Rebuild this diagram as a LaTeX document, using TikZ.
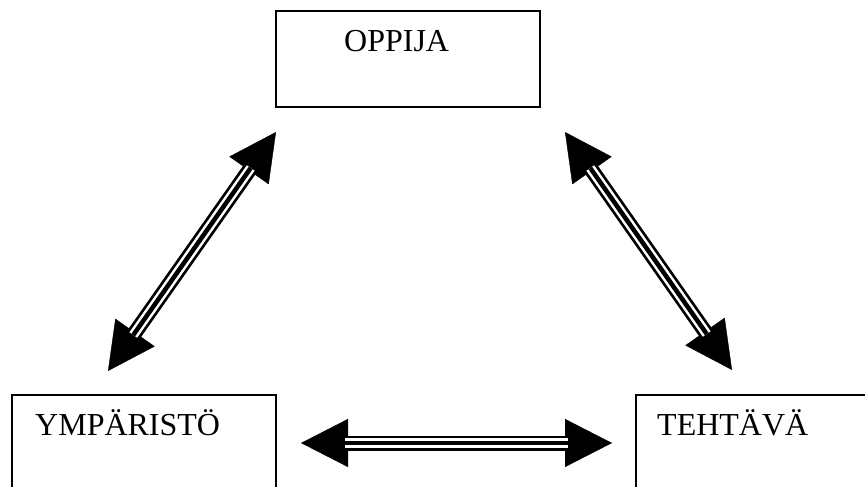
\documentclass[tikz,border=0pt]{standalone}
\usepackage{fontspec}
\setmainfont{Liberation Serif}
\usetikzlibrary{arrows.meta}
\newcommand\tripar[2]{%
  \draw[headpair] (#1) -- (#2);
  \draw[shaftA] (#1) -- (#2);
  \draw[shaftB] (#1) -- (#2);
  \draw[shaftC] (#1) -- (#2);}
\begin{document}
\begin{tikzpicture}[x=1pt,y=-1pt,
  box/.style={draw, line width=1.8pt, inner sep=0pt},
  lbl/.style={anchor=base west, inner sep=0pt, font=\fontsize{32}{36}\selectfont},
  headpair/.style={line width=0.4pt, {Triangle[length=47pt,width=48pt]}-{Triangle[length=47pt,width=48pt]}},
  shaftA/.style={line width=15pt, shorten <=44pt, shorten >=44pt},
  shaftB/.style={white, line width=9.5pt, shorten <=44pt, shorten >=44pt},
  shaftC/.style={line width=4.5pt, shorten <=44pt, shorten >=44pt}]
\useasboundingbox (0,0) rectangle (865,487);
\clip (0,0) rectangle (865,487);
\fill[white] (0,0) rectangle (865,487);
% boxes
\node[box, minimum width=264pt, minimum height=96pt] (obox) at (408,59) {};
\node[box, minimum width=264pt, minimum height=140pt] (ybox) at (144,465) {};
\node[box, minimum width=264pt, minimum height=140pt] (tbox) at (768,465) {};
% labels
\node[lbl] (olbl) at (344,52) {OPPIJA};
\node[lbl] (ylbl) at (35,435) {YMPÄRISTÖ};
\node[lbl] (tlbl) at (657,435) {TEHTÄVÄ};
% arrow ends
\coordinate (la) at (108,371);
\coordinate (lb) at (276,132);
\coordinate (ra) at (565,132);
\coordinate (rb) at (732,370);
\coordinate (ha) at (301,443);
\coordinate (hb) at (612,443);
\tripar{la}{lb}
\tripar{ra}{rb}
\tripar{ha}{hb}
\end{tikzpicture}
\end{document}
